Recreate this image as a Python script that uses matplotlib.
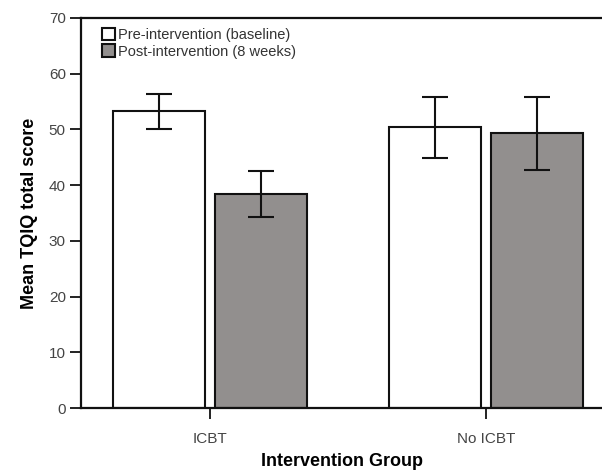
import numpy as np
import matplotlib.pyplot as plt

# Datos
grupos = ['ICBT', 'No ICBT']
series = ['Pre-intervention (baseline)', 'Post-intervention (8 weeks)']
media_pre = [53.3, 50.4]
media_post = [38.4, 49.4]
ic_pre_bajo = [50.1, 44.9]
ic_pre_alto = [56.3, 55.9]
ic_post_bajo = [34.3, 42.8]
ic_post_alto = [42.6, 55.9]

plt.rcParams['font.family'] = ['Liberation Sans', 'DejaVu Sans']

fig = plt.figure(figsize=(6.02, 4.73), dpi=100)
ax = fig.add_axes([0.1346, 0.1374, 0.8654, 0.8246])

x = np.arange(len(grupos))
ancho = 0.333
desp = 0.185

err_pre = [np.array(media_pre) - np.array(ic_pre_bajo),
           np.array(ic_pre_alto) - np.array(media_pre)]
err_post = [np.array(media_post) - np.array(ic_post_bajo),
            np.array(ic_post_alto) - np.array(media_post)]

ax.bar(x - desp, media_pre, ancho, color='white', edgecolor='#111111',
       linewidth=1.5, label=series[0], zorder=2)
ax.bar(x + desp, media_post, ancho, color='#928f8e', edgecolor='#111111',
       linewidth=1.5, label=series[1], zorder=2)
ax.errorbar(x - desp, media_pre, yerr=err_pre, fmt='none', ecolor='#111111',
            elinewidth=1.5, capsize=9.5, capthick=1.5, zorder=3)
ax.errorbar(x + desp, media_post, yerr=err_post, fmt='none', ecolor='#111111',
            elinewidth=1.5, capsize=9.5, capthick=1.5, zorder=3)

ax.set_xlim(-0.467, 1.42)
ax.set_ylim(0, 70)
ax.set_yticks(np.arange(0, 71, 10))
ax.set_xticks(x)
ax.set_xticklabels(grupos)

ax.spines['right'].set_visible(False)
for lado in ['left', 'bottom', 'top']:
    ax.spines[lado].set_linewidth(1.6)
    ax.spines[lado].set_color('#111111')

ax.tick_params(axis='both', direction='out', length=8, width=1.3,
               color='#111111', labelcolor='#444444', labelsize=11)
ax.tick_params(axis='x', pad=9)
ax.tick_params(axis='y', pad=3)

ax.set_ylabel('Mean TQIQ total score', fontsize=13, fontweight='bold', labelpad=8)
ax.set_xlabel('Intervention Group', fontsize=13, fontweight='bold', labelpad=5)

ax.legend(loc='upper left', bbox_to_anchor=(0.02, 1.0), frameon=False,
          fontsize=10.5, handlelength=0.9, handleheight=0.9, handletextpad=0.2,
          labelspacing=0.15, labelcolor='#333333', borderaxespad=0.3)

fig.savefig('out.png', dpi=100)
